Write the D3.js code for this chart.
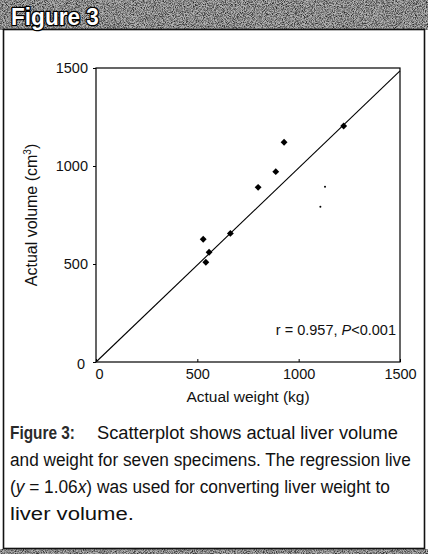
<!DOCTYPE html>
<html><head><meta charset="utf-8">
<script src="https://cdn.jsdelivr.net/npm/d3@7"></script>
<style>body{margin:0;background:#fff}svg{display:block}</style>
</head><body>
<svg id="c" width="428" height="554"></svg>
<script>
// Data
const diamondX = [529, 542, 558, 663, 800, 887, 928, 1222];
const diamondY = [626, 509, 560, 656, 891, 971, 1121, 1204];
const dotX = [1130, 1107];
const dotY = [894, 792];
const lineX = [0, 1500];
const lineY = [0, 1485];
const xTicks = [0, 500, 1000, 1500];
const yTicks = [0, 500, 1000, 1500];
const headerTitle = "Figure 3";
const xTitle = "Actual weight (kg)";
const stat = ["r = 0.957, ", "P", "<0.001"];
const captionLines = [
  "and weight for seven specimens. The regression live",
  "was used for converting liver weight to",
  "liver volume."
];

const svg = d3.select("#c");
const W = 428, H = 554;
const defs = svg.append("defs");
const f = defs.append("filter").attr("id","noise").attr("x",0).attr("y",0).attr("width","100%").attr("height","100%");
f.append("feTurbulence").attr("type","fractalNoise").attr("baseFrequency",1.1).attr("numOctaves",2).attr("seed",3).attr("result","t");
f.append("feColorMatrix").attr("type","matrix")
 .attr("values","0 0 0 0 0  0 0 0 0 0  0 0 0 0 0  0 0 0 -2.2 1.4");

// header band
svg.append("rect").attr("x",0).attr("y",0).attr("width",W).attr("height",30).attr("fill","#b2b2b2");
svg.append("rect").attr("x",0).attr("y",0).attr("width",W).attr("height",30).attr("filter","url(#noise)").attr("opacity",0.8);
// bottom strip
svg.append("rect").attr("x",0).attr("y",549).attr("width",W).attr("height",5).attr("fill","#b2b2b2");
svg.append("rect").attr("x",0).attr("y",549).attr("width",W).attr("height",5).attr("filter","url(#noise)").attr("opacity",0.8);
// outer frame
svg.append("rect").attr("x",3.5).attr("y",29.5).attr("width",421).attr("height",519)
  .attr("fill","none").attr("stroke","#111").attr("stroke-width",1.6);

// fit a text horizontally into a target width by scaling
function fit(sel, x0, y0, target){
  const w = sel.node().getComputedTextLength();
  sel.attr("x",0).attr("y",0).attr("transform",`translate(${x0},${y0}) scale(${target/w},1)`);
  return sel;
}

const ht = svg.append("text").text(headerTitle)
  .attr("font-family","'Liberation Sans',Arial,sans-serif")
  .attr("font-weight","bold").attr("font-size",23)
  .attr("fill","#fff").attr("stroke","#000").attr("stroke-width",2.6)
  .attr("paint-order","stroke").attr("stroke-linejoin","round");
fit(ht, 11, 25, 88);

// scales
const x = d3.scaleLinear().domain([0,1500]).range([96,400]);
const y = d3.scaleLinear().domain([0,1500]).range([362,68]);
const font = "'Liberation Sans',Arial,Helvetica,sans-serif";

// plot frame
svg.append("rect").attr("x",x(0)).attr("y",y(1500)).attr("width",x(1500)-x(0)).attr("height",y(0)-y(1500))
  .attr("fill","none").attr("stroke","#000").attr("stroke-width",1.2);

const ya = svg.append("g").attr("transform",`translate(${x(0)},0)`)
  .call(d3.axisLeft(y).tickValues(yTicks).tickSize(3).tickPadding(5).tickFormat(d3.format("d")));
ya.select(".domain").remove();
ya.selectAll("text").attr("font-family",font).attr("font-size",14.5).attr("fill","#111");
ya.selectAll("line").attr("stroke","#000");
ya.selectAll(".tick").filter(d=>d===0).select("text").attr("dx",-3).attr("dy","0.45em");

const xa = svg.append("g").attr("transform",`translate(0,${y(0)})`)
  .call(d3.axisBottom(x).tickValues(xTicks).tickSize(-3).tickPadding(7).tickFormat(d3.format("d")));
xa.select(".domain").remove();
xa.selectAll("text").attr("font-family",font).attr("font-size",14.5).attr("fill","#111");
xa.selectAll("line").attr("stroke","#000");
xa.selectAll(".tick").filter(d=>d===0).select("text").attr("dx",3);

// axis titles
svg.append("text").attr("x",248).attr("y",402).attr("text-anchor","middle")
  .attr("font-family",font).attr("font-size",15.5).attr("fill","#111").text(xTitle);
const yt = svg.append("text").attr("transform","translate(37,215) rotate(-90)").attr("text-anchor","middle")
  .attr("font-family",font).attr("font-size",16).attr("fill","#111");
yt.append("tspan").text("Actual volume (cm");
yt.append("tspan").attr("font-size",10).attr("dy",-6).text("3");
yt.append("tspan").attr("dy",6).text(")");

// regression line
svg.append("line").attr("x1",x(lineX[0])).attr("y1",y(lineY[0])).attr("x2",x(lineX[1])).attr("y2",y(lineY[1]))
  .attr("stroke","#000").attr("stroke-width",1.1);

// diamonds
const pts = diamondX.map((v,i)=>[v,diamondY[i]]);
svg.selectAll("path.dm").data(pts).enter().append("path").attr("class","dm")
  .attr("d",d3.symbol(d3.symbolDiamond2,30)())
  .attr("transform",d=>`translate(${x(d[0])},${y(d[1])})`).attr("fill","#000");
const dots = dotX.map((v,i)=>[v,dotY[i]]);
svg.selectAll("circle.sm").data(dots).enter().append("circle").attr("class","sm")
  .attr("cx",d=>x(d[0])).attr("cy",d=>y(d[1])).attr("r",1).attr("fill","#000");

// stat annotation
const st = svg.append("text").attr("x",396).attr("y",335).attr("text-anchor","end")
  .attr("font-family",font).attr("font-size",14.5).attr("fill","#111");
st.append("tspan").text(stat[0]);
st.append("tspan").attr("font-style","italic").text(stat[1]);
st.append("tspan").text(stat[2]);

// caption
const cf = "'Liberation Sans',Arial,sans-serif";
function cap(){
  return svg.append("text").attr("font-family",cf).attr("font-size",19).attr("fill","#111");
}
fit(cap().attr("font-weight","bold").attr("fill","#2a2a2a").text("Figure 3:"), 10, 439, 65);
fit(cap().text("Scatterplot shows actual liver volume"), 97, 439, 301);
fit(cap().text(captionLines[0]), 10, 466, 401);
const c3 = cap();
c3.append("tspan").text("(");
c3.append("tspan").attr("font-style","italic").text("y");
c3.append("tspan").text(" = 1.06");
c3.append("tspan").attr("font-style","italic").text("x");
c3.append("tspan").text(") " + captionLines[1]);
fit(c3, 10, 493, 380);
fit(cap().text(captionLines[2]), 10, 520, 124);
</script>
</body></html>
